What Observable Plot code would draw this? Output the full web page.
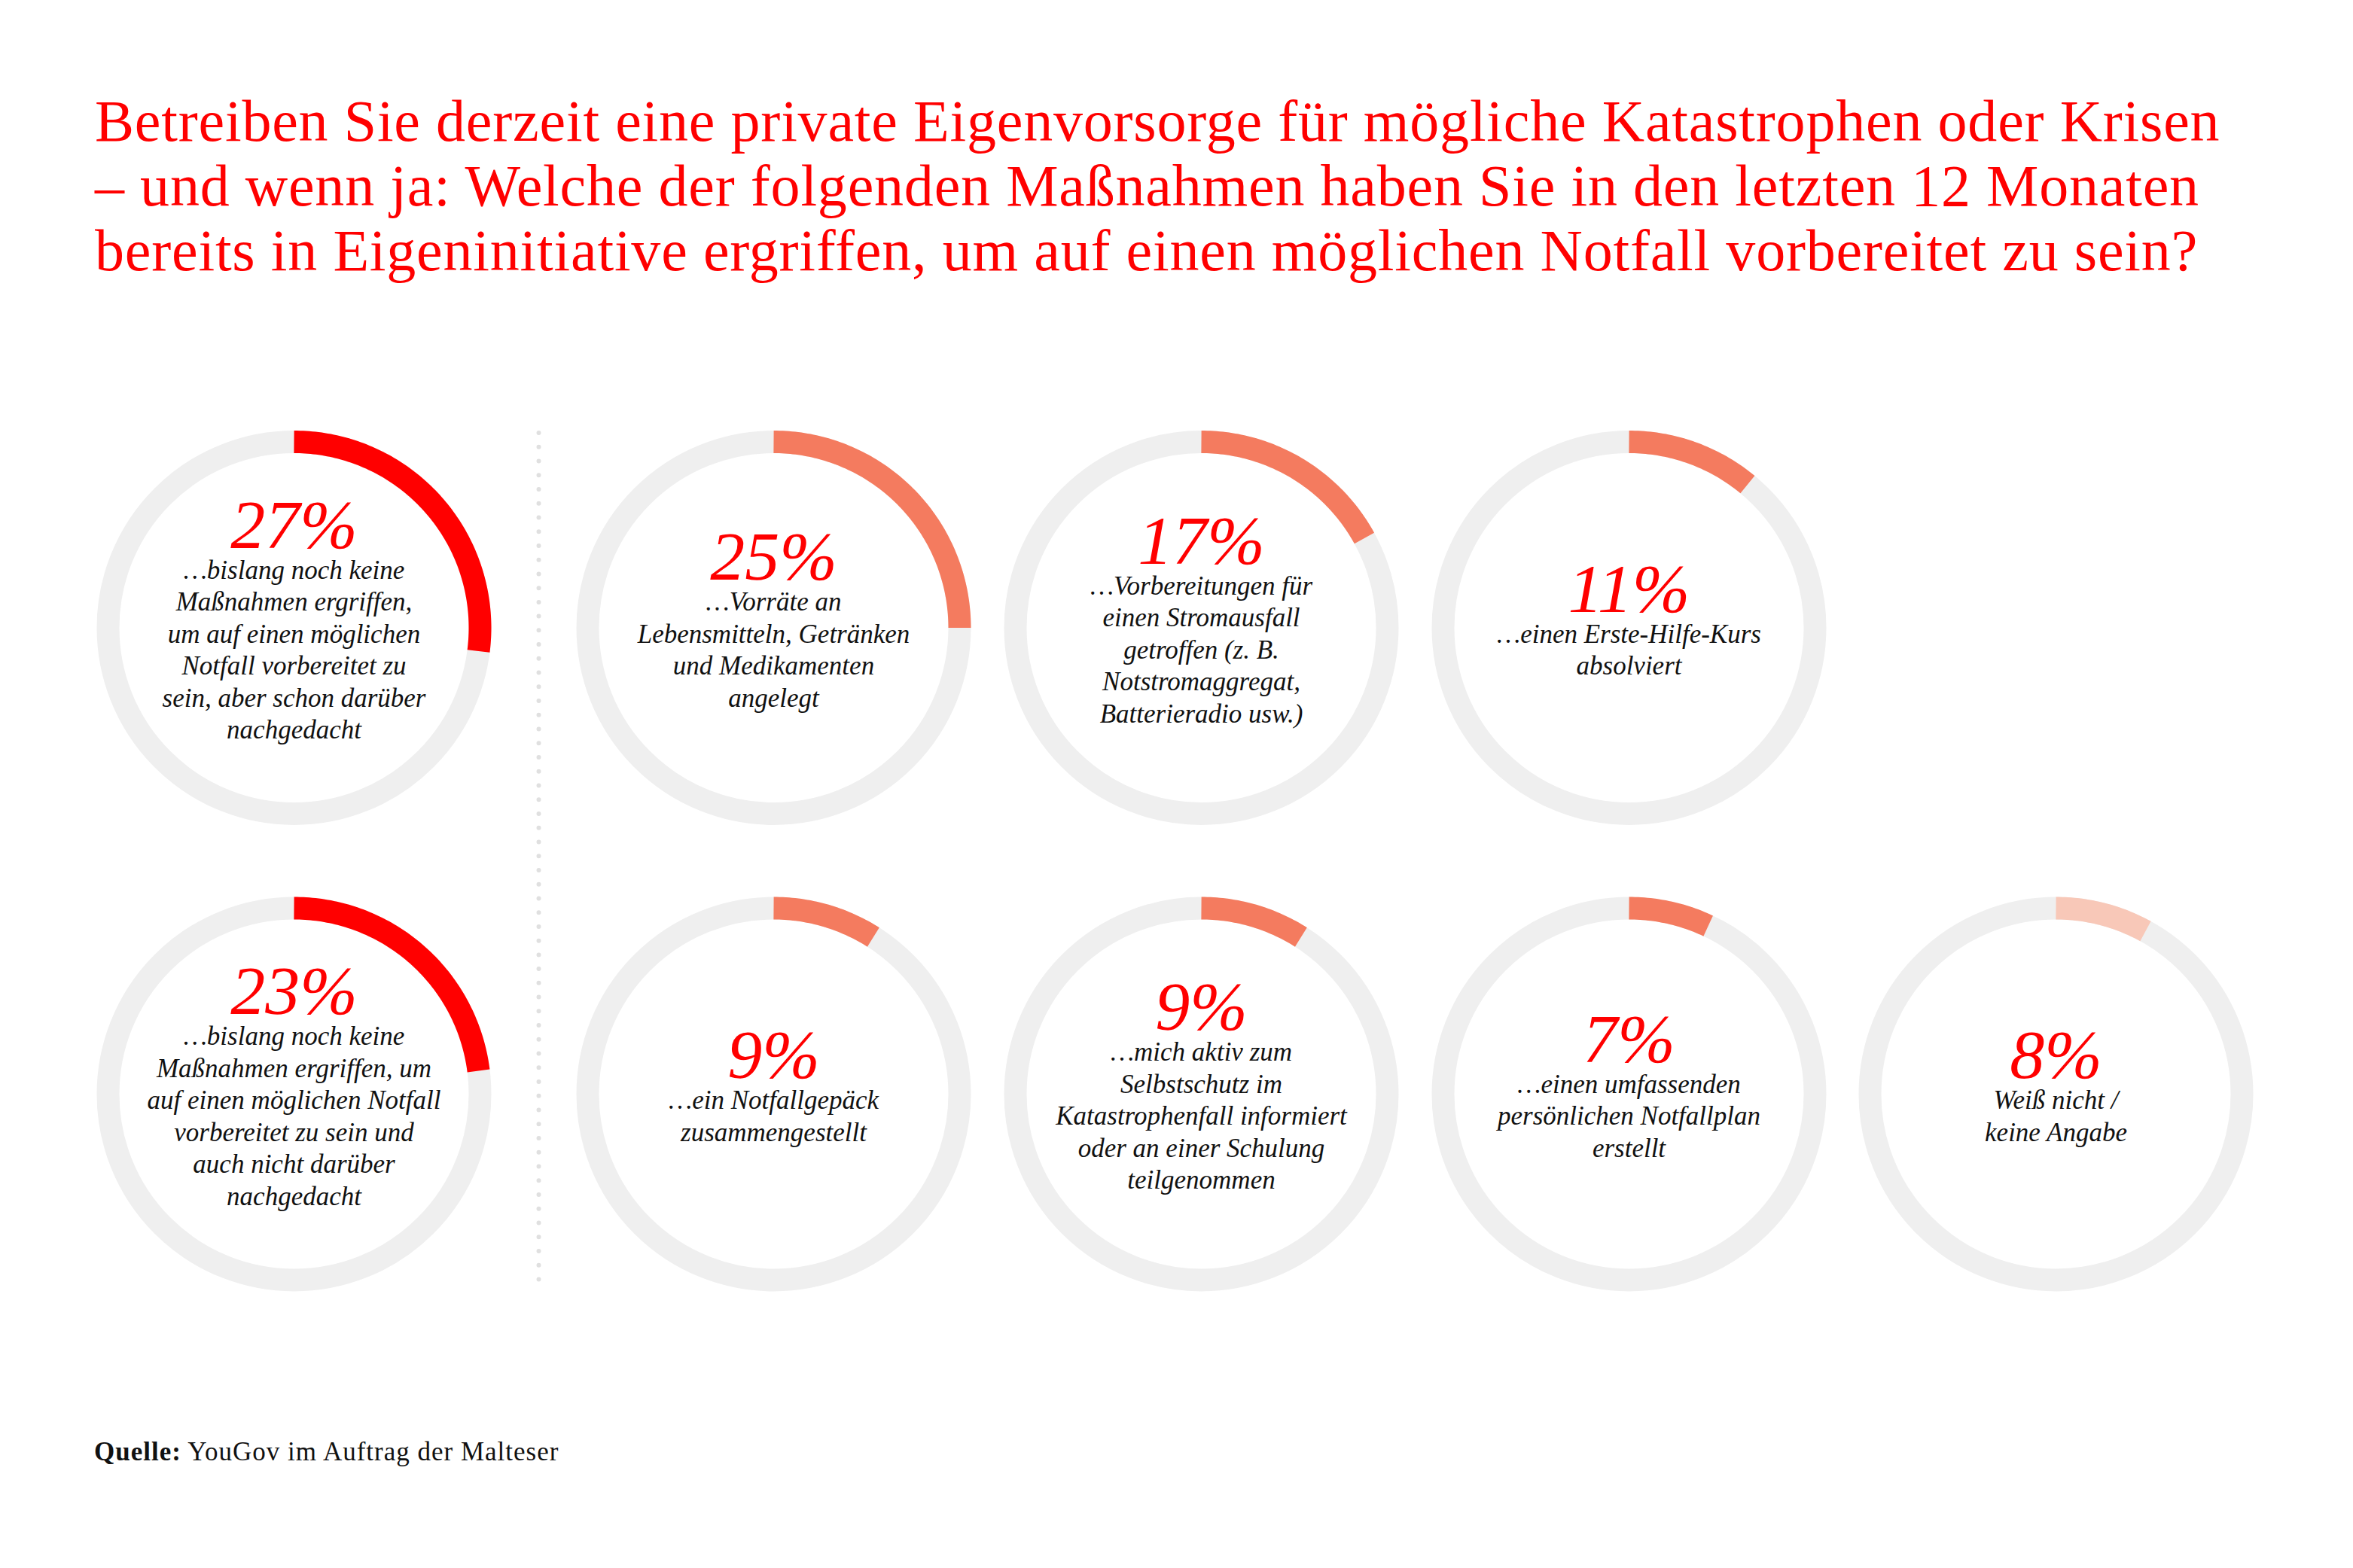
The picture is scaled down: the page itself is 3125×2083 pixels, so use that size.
<!DOCTYPE html>
<html>
<head>
<meta charset="utf-8">
<script src="https://cdn.jsdelivr.net/npm/d3@7"></script>
<script src="https://cdn.jsdelivr.net/npm/@observablehq/plot@0.6"></script>
<style>
  body { margin: 0; background: #fff; width: 3125px; height: 2083px; overflow: hidden; font-family: "Liberation Serif", serif; }
  #title { box-sizing: border-box; height: 500px; padding: 118px 0 0 126px; color: #ff0000; font-size: 78px; letter-spacing: 0.8px; line-height: 86px; white-space: nowrap; }
  #chart svg { display: block; }
  #footer { box-sizing: border-box; padding: 109px 0 0 125px; font-size: 35px; letter-spacing: 1px; line-height: 40px; color: #111; white-space: nowrap; }
</style>
</head>
<body>
<div id="title">Betreiben Sie derzeit eine private Eigenvorsorge für mögliche Katastrophen oder Krisen<br>– und wenn ja: Welche der folgenden Maßnahmen haben Sie in den letzten 12 Monaten<br>bereits in Eigeninitiative ergriffen, um auf einen möglichen Notfall vorbereitet zu sein?</div>
<div id="chart"></div>
<div id="footer"><b>Quelle:</b> YouGov im Auftrag der Malteser</div>
<script>
// ---- data ----
const values = [27, 25, 17, 11, 23, 9, 9, 7, 8];
const groups = ["keine", "massnahme", "massnahme", "massnahme", "keine", "massnahme", "massnahme", "massnahme", "weissnicht"];
const labels = [
  "…bislang noch keine\nMaßnahmen ergriffen,\num auf einen möglichen\nNotfall vorbereitet zu\nsein, aber schon darüber\nnachgedacht",
  "…Vorräte an\nLebensmitteln, Getränken\nund Medikamenten\nangelegt",
  "…Vorbereitungen für\neinen Stromausfall\ngetroffen (z. B.\nNotstromaggregat,\nBatterieradio usw.)",
  "…einen Erste-Hilfe-Kurs\nabsolviert",
  "…bislang noch keine\nMaßnahmen ergriffen, um\nauf einen möglichen Notfall\nvorbereitet zu sein und\nauch nicht darüber\nnachgedacht",
  "…ein Notfallgepäck\nzusammengestellt",
  "…mich aktiv zum\nSelbstschutz im\nKatastrophenfall informiert\noder an einer Schulung\nteilgenommen",
  "…einen umfassenden\npersönlichen Notfallplan\nerstellt",
  "Weiß nicht /\nkeine Angabe"
];

// ---- layout (not data) ----
const W = 3125, H = 1300;
const colX = [390, 1027, 1595, 2163, 2730];
const rowY = [333.5, 953];
const R = 247, RING = 30;
const sepX = 715, sepTop = 75, sepBottom = 1218;
const PCT_SIZE = 92, PCT_CAP = 64, LABEL_SIZE = 35, LINE = 42.5;

const items = values.map((v, i) => {
  const col = i < 4 ? i : i - 4;
  const row = i < 4 ? 0 : 1;
  const label = labels[i];
  const n = label.split("\n").length;
  const cx = colX[col], cy = rowY[row];
  const pctBase = cy - 11 + PCT_CAP - (PCT_CAP + n * LINE) / 2;
  return {i, value: v, pct: v + "%", label, group: groups[i], cx, cy, n, pctBase,
          labelBase: pctBase + 41 + (n - 1) * LINE};
});

const arcPts = items.flatMap(d => {
  const end = d.value / 100 * 2 * Math.PI;
  const steps = Math.max(2, Math.ceil(d.value * 4));
  return d3.range(steps + 1).map(k => {
    const a = end * k / steps;
    return {i: d.i, group: d.group, x: d.cx + R * Math.sin(a), y: d.cy - R * Math.cos(a)};
  });
});

const chart = Plot.plot({
  width: W, height: H, margin: 0,
  style: {background: "white", fontFamily: "Liberation Serif, serif"},
  x: {domain: [0, W], range: [0, W], axis: null},
  y: {domain: [0, H], range: [0, H], axis: null},
  color: {domain: ["keine", "massnahme", "weissnicht"], range: ["#ff0000", "#f47b5f", "#f8c8b8"]},
  marks: [
    Plot.dot(items, {x: "cx", y: "cy", r: R, stroke: "#efefef", strokeWidth: RING, fill: "none"}),
    Plot.line(arcPts, {x: "x", y: "y", z: "i", stroke: "group", strokeWidth: RING, strokeLinecap: "butt", strokeLinejoin: "round", curve: "linear"}),
    Plot.ruleX([sepX], {y1: sepTop, y2: sepBottom, stroke: "#e0e0e0", strokeWidth: 6, strokeLinecap: "round", strokeDasharray: "0 18.74"}),
    Plot.text(items, {x: "cx", y: "pctBase", text: "pct", fontSize: PCT_SIZE, fontStyle: "italic", fill: "#ff0000", lineAnchor: "bottom", textAnchor: "middle"}),
    Plot.text(items, {x: "cx", y: "labelBase", text: "label", fontSize: LABEL_SIZE, fontStyle: "italic", fill: "#111", lineAnchor: "bottom", lineHeight: LINE / LABEL_SIZE, textAnchor: "middle"})
  ]
});
document.getElementById("chart").appendChild(chart);
</script>
</body>
</html>
